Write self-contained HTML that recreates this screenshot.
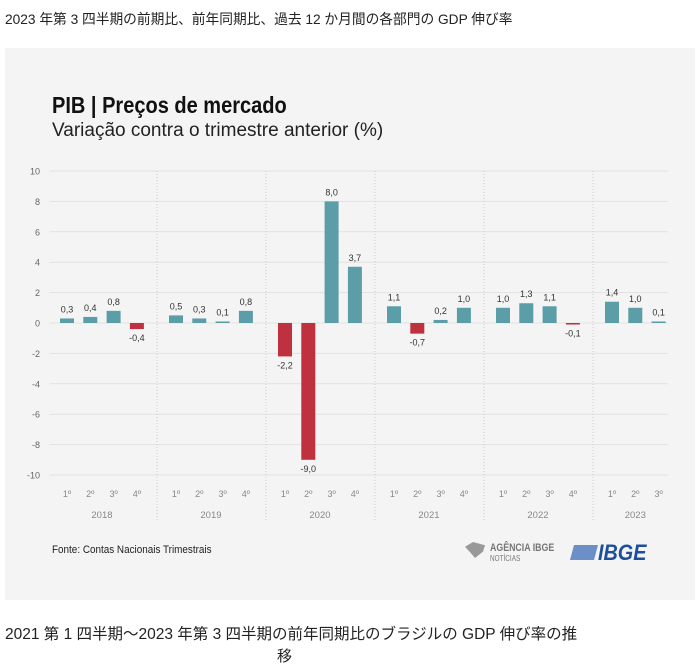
<!DOCTYPE html>
<html><head><meta charset="utf-8"><style>
body{margin:0;width:699px;height:670px;background:#fff;overflow:hidden;font-family:"Liberation Sans","Noto Sans CJK JP",sans-serif}
.t{position:absolute;white-space:nowrap;transform-origin:0 0}
</style></head><body>
<div class="t" style="left:5px;top:9px;font-size:14px;color:#222;font-family:'Liberation Sans','Noto Sans CJK JP',sans-serif;transform:scaleX(0.98)">2023 年第 3 四半期の前期比、前年同期比、過去 12 か月間の各部門の GDP 伸び率</div>
<div style="position:absolute;left:5px;top:48px;width:690px;height:552px;background:#f4f4f4"></div>
<svg id="s" width="699" height="670" style="position:absolute;left:0;top:0" font-family="Liberation Sans, sans-serif"></svg>
<div class="t" style="left:52px;top:92px;font-size:23px;font-weight:bold;color:#111;transform:scaleX(0.87)">PIB | Preços de mercado</div>
<div class="t" style="left:52px;top:120px;font-size:19px;color:#222">Variação contra o trimestre anterior (%)</div>
<div class="t" style="left:52px;top:544px;font-size:11px;color:#222;transform:scaleX(0.9)">Fonte: Contas Nacionais Trimestrais</div>
<div class="t" style="left:490px;top:543px;font-size:11px;color:#777;font-weight:bold;line-height:10px;transform:scaleX(0.8)">AGÊNCIA IBGE<br><span style="font-size:8px;font-weight:normal">NOTÍCIAS</span></div>
<div style="position:absolute;left:465px;top:542px;width:20px;height:16px;background:#999;clip-path:polygon(0 30%,40% 0,100% 20%,90% 60%,50% 100%,30% 70%)"></div>
<div style="position:absolute;left:572px;top:545px;width:24px;height:15px;background:#6b8fc6;transform:skewX(-15deg)"></div>
<div class="t" style="left:598px;top:540px;font-size:22px;font-weight:bold;font-style:italic;color:#1d4f9c;transform:scaleX(0.9)">IBGE</div>
<div class="t" style="left:5px;top:622px;font-size:15.5px;color:#222;font-family:'Liberation Sans','Noto Sans CJK JP',sans-serif">2021 第 1 四半期～2023 年第 3 四半期の前年同期比のブラジルの GDP 伸び率の推</div>
<div class="t" style="left:277px;top:645px;font-size:15px;color:#222;font-family:'Noto Sans CJK JP',sans-serif">移</div>
<script>
var s=document.getElementById('s'),h='';
function y(v){return 323-15.2*v}
for(var v=-10;v<=10;v+=2){h+='<line x1="50" x2="668" y1="'+y(v)+'" y2="'+y(v)+'" stroke="#e2e2e2" stroke-width="1"/>';
h+='<text x="40" y="'+(y(v)+3.5)+'" font-size="9" fill="#666" text-anchor="end">'+(v<0?'-'+(-v):v)+'</text>';}
[157,266,375,484,593].forEach(function(x){h+='<line x1="'+x+'" x2="'+x+'" y1="171" y2="522" stroke="#ccc" stroke-dasharray="1,2"/>'});
var d=[[.3,.4,.8,-.4],[.5,.3,.1,.8],[-2.2,-9.0,8.0,3.7],[1.1,-.7,.2,1.0],[1.0,1.3,1.1,-.1],[1.4,1.0,.1]];
var yrs=['2018','2019','2020','2021','2022','2023'];
d.forEach(function(g,i){var xs=[];g.forEach(function(v,q){var cx=67+109*i+23.3*q;xs.push(cx);
var top=v>=0?y(v):y(0),hh=Math.abs(v)*15.2;
h+='<rect x="'+(cx-7)+'" y="'+top+'" width="14" height="'+hh+'" fill="'+(v>=0?'#5b9ea8':'#c0313f')+'"/>';
var lab=(v<0?'-':'')+Math.abs(v).toFixed(1).replace('.',',');
h+='<text x="'+cx+'" y="'+(v>=0?y(v)-6:y(v)+12)+'" font-size="9" fill="#333" text-anchor="middle">'+lab+'</text>';
h+='<text x="'+cx+'" y="497" font-size="9" fill="#888" text-anchor="middle">'+(q+1)+'º</text>';});
var mx=(xs[0]+xs[xs.length-1])/2;
h+='<text x="'+mx+'" y="518" font-size="9.5" fill="#888" text-anchor="middle">'+yrs[i]+'</text>';});
s.innerHTML=h;
</script>
</body></html>
